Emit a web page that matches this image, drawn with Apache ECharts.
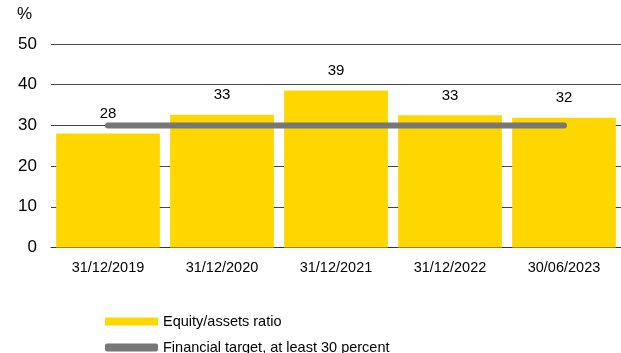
<!DOCTYPE html>
<html>
<head>
<meta charset="utf-8">
<script src="https://cdn.jsdelivr.net/npm/echarts@6/dist/echarts.min.js"></script>
<style>
  html, body { margin: 0; padding: 0; background: #fff; }
  #chart { width: 621px; height: 353px; }
</style>
</head>
<body>
<div id="chart"></div>
<script>
  // categories and values
  var categories = ['31/12/2019', '31/12/2020', '31/12/2021', '31/12/2022', '30/06/2023'];
  var ratioValues = [28.0, 32.6, 38.6, 32.5, 31.9];
  var ratioLabels = ['28', '33', '39', '33', '32'];
  var targetValues = [30, 30, 30, 30, 30];
  var barName = 'Equity/assets ratio';
  var lineName = 'Financial target, at least 30 percent';

  var chart = echarts.init(document.getElementById('chart'));
  var font = 'Liberation Sans, Arial, sans-serif';

  function legendBox(name, icon, top) {
    return {
      left: 100, top: top,
      itemWidth: 53, itemHeight: 8,
      textStyle: { fontSize: 14.5, color: '#000', fontFamily: font },
      data: [{ name: name, icon: icon }]
    };
  }

  chart.setOption({
    animation: false,
    textStyle: { fontFamily: font },
    grid: { left: 51, right: 0, top: 44, bottom: 105.5, containLabel: false },
    graphic: [{
      type: 'text', left: 17, top: 6,
      style: { text: '%', font: '17px ' + font, fill: '#000' }
    }],
    legend: [
      legendBox(barName, 'rect', 309),
      legendBox(lineName, 'roundRect', 335)
    ],
    xAxis: {
      type: 'category',
      data: categories,
      axisLine: { lineStyle: { color: '#333', width: 1 } },
      axisTick: { show: false },
      axisLabel: { color: '#000', fontSize: 14.5, margin: 13, fontFamily: font }
    },
    yAxis: {
      type: 'value',
      min: 0, max: 50, interval: 10,
      axisLine: { show: false },
      axisTick: { show: false },
      axisLabel: { color: '#000', fontSize: 17, margin: 14, fontFamily: font },
      splitLine: { lineStyle: { color: '#444', width: 1 } }
    },
    series: [{
      name: barName,
      type: 'bar',
      data: ratioValues,
      barCategoryGap: '9%',
      itemStyle: { color: '#FFD700' },
      label: {
        show: true, position: 'top', distance: 12,
        color: '#000', fontSize: 15, fontFamily: font,
        formatter: function (p) { return ratioLabels[p.dataIndex]; }
      }
    }, {
      name: lineName,
      type: 'line',
      data: targetValues,
      symbol: 'none',
      itemStyle: { color: '#777' },
      lineStyle: { color: '#777', width: 6, cap: 'round' },
      z: 3
    }]
  });
</script>
</body>
</html>
